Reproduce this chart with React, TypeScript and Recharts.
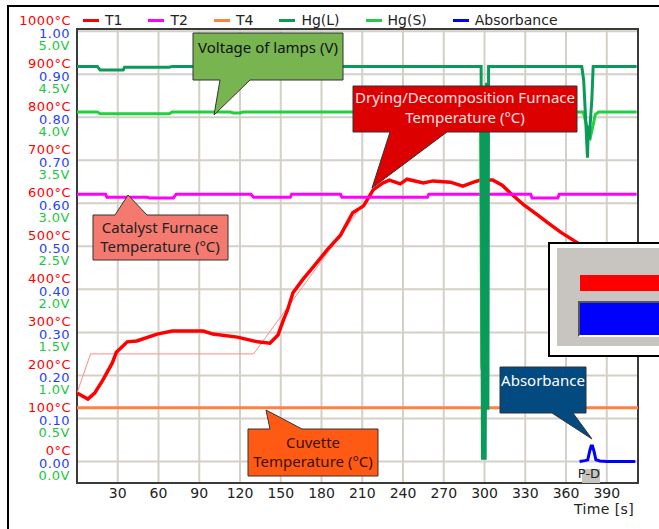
import { CartesianGrid, Line, LineChart, ReferenceArea, XAxis, YAxis } from 'recharts'

// time [s], value
const T1: [number, number][] = [
  [0, 159], [8, 145], [13, 159], [19, 189], [26, 229], [29, 254], [37, 278], [44, 280],
  [59, 296], [70, 303], [93, 303], [100, 296], [118, 289], [133, 278], [142, 275],
  [148, 294], [152, 329], [155, 352], [159, 392], [166, 422], [174, 452], [184, 491],
  [194, 526], [203, 578], [211, 594], [218, 631], [225, 647], [230, 654], [238, 645],
  [243, 656], [255, 647], [262, 652], [275, 649], [284, 640], [292, 649], [297, 654],
  [306, 654], [313, 642], [319, 624], [329, 596], [339, 573], [346, 556], [356, 533],
  [365, 515], [380, 485], [395, 455], [413, 430],
]
const T1_SETPOINT: [number, number][] = [[0, 159], [10, 250], [130, 250], [218, 630]]
const T2: [number, number][] = [
  [0, 621], [21, 621], [22, 614], [52, 614], [53, 612], [71, 612], [73, 621], [128, 621],
  [130, 614], [157, 614], [158, 621], [194, 621], [195, 614], [258, 614], [259, 621],
  [334, 621], [335, 612], [354, 612], [355, 621], [412, 621],
]
const T4: [number, number][] = [[0, 125], [413, 125]]
// lamp voltages [V]
const HG_L: [number, number][] = [
  [0, 4.59], [15, 4.59], [17, 4.55], [34, 4.55], [35, 4.58], [68, 4.58], [70, 4.59],
  [297.5, 4.59], [298.5, 0.02], [299.5, 4.2], [300.5, 0.02], [301.5, 4.4], [302.5, 0.6],
  [303, 4.59], [371.6, 4.59], [373, 4.43], [374.5, 3.97], [375.8, 3.53], [376.5, 3.9],
  [377, 3.74], [379, 4.2], [380, 4.59], [412, 4.59],
]
const HG_S: [number, number][] = [
  [0, 4.06], [15, 4.06], [17, 4.04], [68, 4.04], [70, 4.06], [113, 4.06], [115, 4.05],
  [120, 4.05], [122, 4.06], [297, 4.06], [298, 1.1], [299, 1.0], [299.8, 4.06],
  [372.7, 4.06], [376, 3.85], [378, 3.77], [380, 3.91], [381.5, 4.03], [384, 4.06], [412, 4.06],
]
const ABSORBANCE: [number, number][] = [
  [370, 0], [374, 0.002], [376, 0.004], [377.5, 0.025], [378.5, 0.036], [379.5, 0.036],
  [380.5, 0.025], [382, 0.004], [385, 0.001], [390, 0], [411, 0],
]

const Y_TICKS = [0, 100, 200, 300, 400, 500, 600, 700, 800, 900, 1000]
const X_TICKS = [30, 60, 90, 120, 150, 180, 210, 240, 270, 300, 330, 360, 390]

// one pixel scale: 1000 °C = 1.00 abs = 5.0 V
const toRows = (pts: [number, number][], k = 1) => pts.map(([t, v]) => ({ t, v: v * k }))

const SERIES = [
  { name: 'T1', color: '#ff0000' },
  { name: 'T2', color: '#ff00ff' },
  { name: 'T4', color: '#ff8040' },
  { name: 'Hg(L)', color: '#0a9a5a' },
  { name: 'Hg(S)', color: '#20d040' },
  { name: 'Absorbance', color: '#0000ff' },
]

const FONT = '"DejaVu Sans", Verdana, sans-serif'
const CALLOUT_FONT = '"Noto Sans", sans-serif'

function YTick({ y, payload }: any) {
  const v = payload.value as number
  return (
    <g fontFamily={FONT} fontSize={13} letterSpacing={0.5}>
      <text x={71} y={y - 11} textAnchor="end" dominantBaseline="central" fill="#ff0000">
        {v}°C
      </text>
      <text x={70} y={y + 2} textAnchor="end" dominantBaseline="central" fill="#1f3fff">
        {(v / 1000).toFixed(2)}
      </text>
      <text x={70} y={y + 14} textAnchor="end" dominantBaseline="central" fill="#20c840">
        {(v / 200).toFixed(1)}V
      </text>
    </g>
  )
}

function Callouts() {
  return (
    <svg
      width={659}
      height={529}
      style={{ position: 'absolute', left: 0, top: 0, pointerEvents: 'none' }}
      fontFamily={CALLOUT_FONT}
      fontSize={15}
      textAnchor="middle"
      dominantBaseline="central"
    >
      <path d="M193,33 H343 V80 H250 L214,115 L220,80 H193 Z" fill="#78b450" stroke="#333" />
      <text x={268} y={47} fill="#111">Voltage of lamps (V)</text>

      <path d="M353,86 H577 V132 H447 L372,188 L390,132 H353 Z" fill="#dd0000" stroke="#333" />
      <text x={465} y={97} fill="#ffe0e0">Drying/Decomposition Furnace</text>
      <text x={465} y={117} fill="#ffe0e0">Temperature (°C)</text>

      <path d="M93,215 H115 L128,195 L147,215 H228 V260 H93 Z" fill="#f47a70" stroke="#333" />
      <text x={160} y={227} fill="#222">Catalyst Furnace</text>
      <text x={160} y={246} fill="#222">Temperature (°C)</text>

      <path d="M248,429 H270 L266,410 L302,429 H378 V476 H248 Z" fill="#ff5a14" stroke="#333" />
      <text x={313} y={442} fill="#3a1000">Cuvette</text>
      <text x={313} y={461} fill="#3a1000">Temperature (°C)</text>

      <path d="M500,367 H586 V413 H573 L592,439 L552,413 H500 Z" fill="#034a80" stroke="#333" />
      <text x={543} y={380} fill="#ffffff">Absorbance</text>

      <rect x={582} y={469} width={18} height={14} fill="#c8c4c0" />
      <text x={589} y={473} fontFamily={FONT} fontSize={13} fill="#222">P-D</text>

      <text x={604} y={509} fontFamily={FONT} fontSize={14} fill="#222" letterSpacing={0.4}>
        Time [s]
      </text>
    </svg>
  )
}

function LegendRow() {
  return (
    <div
      style={{
        position: 'absolute',
        left: 83,
        top: 11,
        display: 'flex',
        alignItems: 'center',
        fontFamily: FONT,
        fontSize: 14,
        color: '#222',
        lineHeight: '18px',
      }}
    >
      {SERIES.map((s) => (
        <div key={s.name} style={{ display: 'flex', alignItems: 'center', marginRight: 26 }}>
          <span style={{ width: 16, height: 3, background: s.color, marginRight: 6 }} />
          <span>{s.name}</span>
        </div>
      ))}
    </div>
  )
}

function SidePanel() {
  return (
    <div
      style={{
        position: 'absolute',
        left: 548,
        top: 242,
        width: 130,
        height: 111,
        border: '2px solid #000',
        background: '#fff',
      }}
    >
      <div style={{ position: 'absolute', left: 7, top: 4, width: 130, height: 98, background: '#c8c4c0' }} />
      <div style={{ position: 'absolute', left: 30, top: 31, width: 100, height: 16, background: '#ff0000' }} />
      <div
        style={{
          position: 'absolute',
          left: 28,
          top: 57,
          width: 100,
          height: 32,
          background: '#0000ff',
          borderTop: '2px solid #555',
          borderLeft: '2px solid #555',
          borderBottom: '2px solid #fff',
        }}
      />
    </div>
  )
}

export default function App() {
  return (
    <div
      style={{
        position: 'absolute',
        left: 0,
        top: 0,
        width: 659,
        height: 529,
        overflow: 'hidden',
        background: '#fff',
      }}
    >
      <div
        style={{
          position: 'absolute',
          left: 7,
          top: 5,
          width: 720,
          height: 600,
          border: '2px solid #000',
        }}
      />
      <div style={{ position: 'absolute', left: 0, top: 0 }}>
        <LineChart width={659} height={529} margin={{ top: 29, right: 21, bottom: 0, left: 8 }}>
          <CartesianGrid stroke="#d4d0c8" strokeWidth={2} />
          <XAxis
            type="number"
            dataKey="t"
            domain={[0, 413]}
            ticks={X_TICKS}
            height={46}
            tickSize={0}
            tickMargin={5}
            axisLine={false}
            tickLine={false}
            tick={{ fontSize: 14, fill: '#222', fontFamily: FONT }}
            allowDataOverflow
          />
          <YAxis
            type="number"
            domain={[-50, 1005]}
            ticks={Y_TICKS}
            width={69}
            axisLine={false}
            tickLine={false}
            interval={0}
            tick={<YTick />}
            allowDataOverflow
          />
          <ReferenceArea x1={0} x2={413} y1={-50} y2={1005} fill="none" stroke="#3a3a3a" strokeWidth={2} />
          <Line data={toRows(T1_SETPOINT)} dataKey="v" stroke="#ff8a8a" strokeWidth={1} dot={false} isAnimationActive={false} />
          <Line data={toRows(T1)} dataKey="v" stroke="#ff0000" strokeWidth={3.5} dot={false} isAnimationActive={false} />
          <Line data={toRows(T2)} dataKey="v" stroke="#ff00ff" strokeWidth={3} dot={false} isAnimationActive={false} />
          <Line data={toRows(T4)} dataKey="v" stroke="#ff8040" strokeWidth={3} dot={false} isAnimationActive={false} />
          <Line data={toRows(ABSORBANCE, 1000)} dataKey="v" stroke="#0000ff" strokeWidth={3} dot={false} isAnimationActive={false} />
          <Line data={toRows(HG_S, 200)} dataKey="v" stroke="#20d040" strokeWidth={3} dot={false} isAnimationActive={false} />
          <Line data={toRows(HG_L, 200)} dataKey="v" stroke="#0a9a5a" strokeWidth={3} dot={false} isAnimationActive={false} />
        </LineChart>
      </div>
      <LegendRow />
      <Callouts />
      <SidePanel />
    </div>
  )
}
